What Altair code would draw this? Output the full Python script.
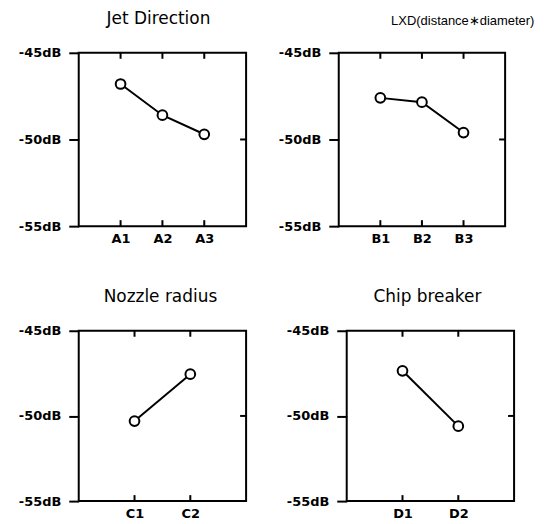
import altair as alt
import pandas as pd

# data
titles = ["Jet Direction", "LXD(distance\u2217diameter)", "Nozzle radius", "Chip breaker"]
levels_a = ["A1", "A2", "A3"]
values_a = [-46.8, -48.6, -49.7]
levels_b = ["B1", "B2", "B3"]
values_b = [-47.6, -47.85, -49.6]
levels_c = ["C1", "C2"]
values_c = [-50.3, -47.55]
levels_d = ["D1", "D2"]
values_d = [-47.35, -50.6]
y_ticks = [-55, -50, -45]
y_domain = [-55, -45]

FONT = "DejaVu Sans"


def panel(title, levels, values, w, h, extent, tfont=FONT, tsize=17, tdx=0):
    df = pd.DataFrame({"level": levels, "sn": values})
    x = alt.X("level:O", sort=levels,
              scale=alt.Scale(type="point", padding=1),
              axis=alt.Axis(title=None, labelAngle=0, ticks=False, domain=False,
                            labelFont=FONT, labelFontWeight="bold", labelFontSize=13,
                            labelColor="black", labelPadding=6))
    y = alt.Y("sn:Q", scale=alt.Scale(domain=y_domain, nice=False, zero=False),
              axis=alt.Axis(title=None, values=y_ticks, grid=False, domain=False,
                            labelExpr="datum.value + 'dB'", tickSize=10, tickWidth=2,
                            tickColor="black", labelPadding=8, labelFont=FONT,
                            labelFontWeight="bold", labelFontSize=13, labelColor="black",
                            minExtent=extent, maxExtent=extent))
    base = alt.Chart(df)
    line = base.mark_line(color="black", strokeWidth=2).encode(x=x, y=y)
    pts = base.mark_point(shape="circle", size=95, filled=True, fill="white",
                          stroke="black", strokeWidth=2, opacity=1).encode(x=x, y=y)
    bot = base.mark_rule(color="black", strokeWidth=2).encode(
        x=alt.X("level:O", sort=levels), y=alt.value(h), y2=alt.value(h - 6))
    top = base.mark_rule(color="black", strokeWidth=2).encode(
        x=alt.X("level:O", sort=levels), y=alt.value(0), y2=alt.value(6))
    rdf = pd.DataFrame({"v": [-50]})
    right = alt.Chart(rdf).mark_rule(color="black", strokeWidth=2).encode(
        y=alt.Y("v:Q"), x=alt.value(w), x2=alt.value(w - 6))
    return alt.layer(line, pts, bot, top, right).properties(
        width=w, height=h,
        view=alt.ViewBackground(stroke="black", strokeWidth=2),
        title=alt.TitleParams(title, font=tfont, fontSize=tsize, fontWeight="normal",
                              color="black", offset=19, anchor="middle", dx=tdx))


p1 = panel(titles[0], levels_a, values_a, 168, 174, 70, tdx=-4)
p2 = panel(titles[1], levels_b, values_b, 167, 174, 70,
           tfont="Liberation Sans", tsize=13, tdx=41)
p3 = panel(titles[2], levels_c, values_c, 168, 171, 67, tdx=-2)
p4 = panel(titles[3], levels_d, values_d, 168, 171, 70, tdx=-3)

row1 = alt.hconcat(p1, p2, spacing=20)
row2 = alt.hconcat(p3, p4, spacing=28)
chart = alt.vconcat(row1, row2, spacing=41).properties(
    padding={"left": 0, "top": 0, "right": 0, "bottom": 0}
).configure(background="white")

chart.save("out.html", embed_options={"renderer": "svg", "actions": False})
